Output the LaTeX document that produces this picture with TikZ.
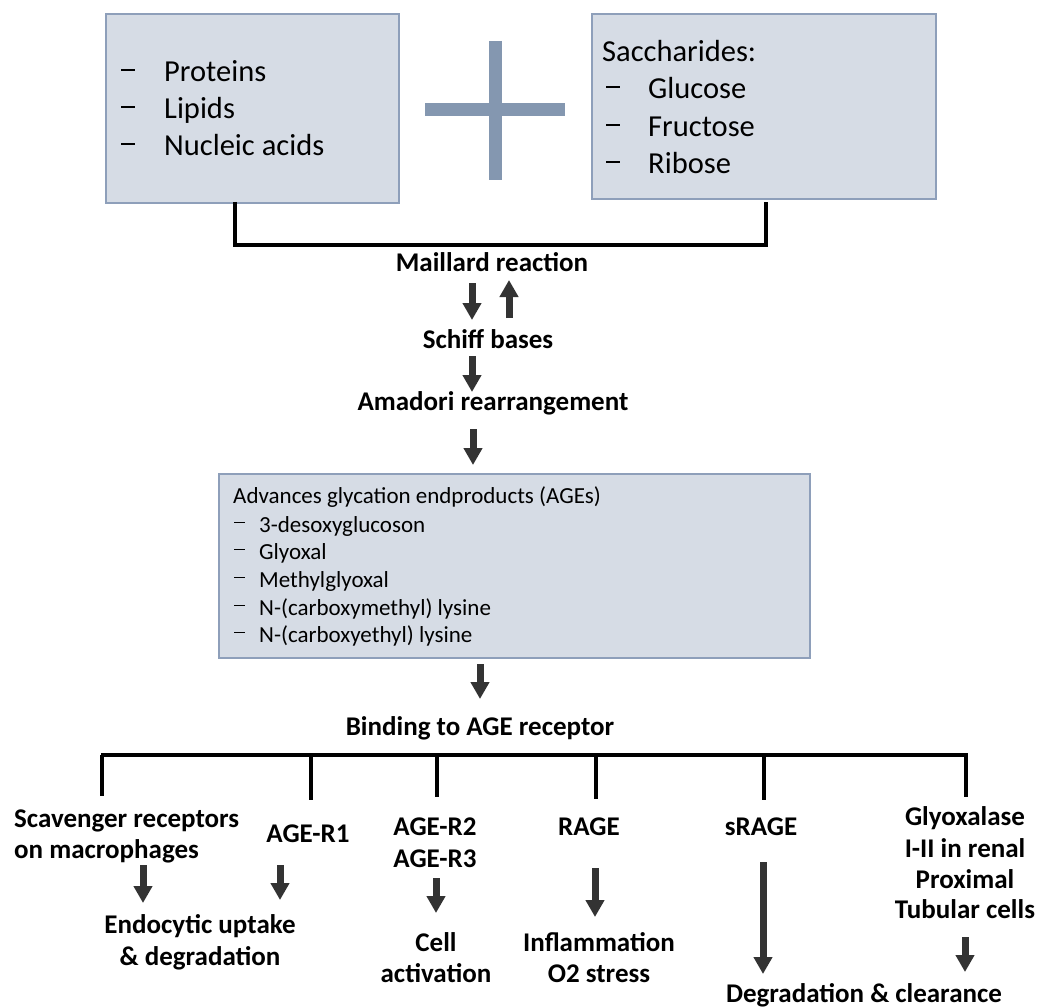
\documentclass[tikz,border=0pt]{standalone}
\usepackage{fontspec}
\setmainfont{Carlito}
\usetikzlibrary{arrows.meta}
\definecolor{boxfill}{HTML}{D6DCE5}
\definecolor{boxline}{HTML}{8E9FBA}
\definecolor{plusc}{HTML}{8497B0}
\definecolor{arrc}{HTML}{333333}
\newcommand\mydash{\rule[0.37em]{0.46em}{0.07em}}
\begin{document}
\begin{tikzpicture}[x=1pt,y=-1pt,
  box/.style={draw=boxline, fill=boxfill, line width=2pt, anchor=north west, inner sep=0pt},
  bigtxt/.style={font=\fontsize{30.5}{36}\selectfont, anchor=base west, inner sep=0pt},
  smtxt/.style={font=\fontsize{23}{28}\selectfont, anchor=base west, inner sep=0pt},
  lbl/.style={font=\bfseries\fontsize{27}{32}\selectfont, anchor=base, inner sep=0pt},
  lbll/.style={font=\bfseries\fontsize{27}{32}\selectfont, anchor=base west, inner sep=0pt},
  arr/.style={draw=arrc, line width=7pt, -{Triangle[length=17pt,width=18pt]}},
  bus/.style={draw=black, line width=4pt},
  plusbar/.style={draw=plusc, line width=13pt}]
\useasboundingbox (0,0) rectangle (1038,1008);

% top boxes
\node[box, minimum width=293pt, minimum height=189pt] (lbox) at (105,13) {};
\node[box, minimum width=344pt, minimum height=185pt] (rbox) at (591,13) {};
\node[bigtxt] (d1) at (121,82) {\mydash};
\node[bigtxt] (t1) at (164,82) {Proteins};
\node[bigtxt] (d2) at (121,119) {\mydash};
\node[bigtxt] (t2) at (164,119) {Lipids};
\node[bigtxt] (d3) at (121,156) {\mydash};
\node[bigtxt] (t3) at (164,156) {Nucleic acids};
\node[bigtxt] (s0) at (602,62) {Saccharides:};
\node[bigtxt] (e1) at (606,99) {\mydash};
\node[bigtxt] (s1) at (648,99) {Glucose};
\node[bigtxt] (e2) at (606,137) {\mydash};
\node[bigtxt] (s2) at (648,137) {Fructose};
\node[bigtxt] (e3) at (606,174) {\mydash};
\node[bigtxt] (s3) at (648,174) {Ribose};

% plus sign
\coordinate (pv1) at (495,41);
\coordinate (pv2) at (495,180);
\coordinate (ph1) at (425,110);
\coordinate (ph2) at (565,110);
\draw[plusbar] (pv1) -- (pv2);
\draw[plusbar] (ph1) -- (ph2);

% bracket
\coordinate (bl) at (235,202);
\coordinate (br) at (766,202);
\coordinate (bb) at (500,245);
\draw[bus] (bl) |- (bb) -| (br);

% chain
\node[lbl] (maillard) at (492,272) {Maillard reaction};
\node[lbl] (schiff) at (488,348) {Schiff bases};
\node[lbl] (amadori) at (493,410) {Amadori rearrangement};
\coordinate (m1) at (472,283);
\coordinate (m2) at (472,320);
\coordinate (u1) at (509,318);
\coordinate (u2) at (509,280);
\draw[arr] (m1) -- (m2);
\draw[arr] (u1) -- (u2);
\coordinate (s1a) at (472,356);
\coordinate (s1b) at (472,392);
\draw[arr] (s1a) -- (s1b);
\coordinate (a1a) at (473,429);
\coordinate (a1b) at (473,465);
\draw[arr] (a1a) -- (a1b);

% AGE box
\node[box, minimum width=591pt, minimum height=184pt] (agebox) at (218,473) {};
\node[smtxt] (g0) at (233,503) {Advances glycation endproducts (AGEs)};
\node[smtxt] (gd1) at (234,532) {\mydash};
\node[smtxt] (g1) at (259,532) {3-desoxyglucoson};
\node[smtxt] (gd2) at (234,559) {\mydash};
\node[smtxt] (g2) at (259,559) {Glyoxal};
\node[smtxt] (gd3) at (234,587) {\mydash};
\node[smtxt] (g3) at (259,587) {Methylglyoxal};
\node[smtxt] (gd4) at (234,615) {\mydash};
\node[smtxt] (g4) at (259,615) {N-(carboxymethyl) lysine};
\node[smtxt] (gd5) at (234,642) {\mydash};
\node[smtxt] (g5) at (259,642) {N-(carboxyethyl) lysine};

\coordinate (b1a) at (480,664);
\coordinate (b1b) at (480,699);
\draw[arr] (b1a) -- (b1b);
\node[lbl] (binding) at (480,735) {Binding to AGE receptor};

% bus
\coordinate (busL) at (101,755);
\coordinate (busR) at (968,755);
\draw[bus] (busL) -- (busR);
\coordinate (v1) at (102,755); \coordinate (v1b) at (102,796);
\coordinate (v2) at (311,755); \coordinate (v2b) at (311,800);
\coordinate (v3) at (437,755); \coordinate (v3b) at (437,797);
\coordinate (v4) at (596,755); \coordinate (v4b) at (596,799);
\coordinate (v5) at (764,755); \coordinate (v5b) at (764,800);
\coordinate (v6) at (966,755); \coordinate (v6b) at (966,797);
\draw[bus] (v1) -- (v1b);
\draw[bus] (v2) -- (v2b);
\draw[bus] (v3) -- (v3b);
\draw[bus] (v4) -- (v4b);
\draw[bus] (v5) -- (v5b);
\draw[bus] (v6) -- (v6b);

% receptor labels
\node[lbll] (scav1) at (14,827) {Scavenger receptors};
\node[lbll] (scav2) at (14,858) {on macrophages};
\node[lbl] (r1) at (308,842) {AGE-R1};
\node[lbl] (r2) at (435,835) {AGE-R2};
\node[lbl] (r3) at (435,867) {AGE-R3};
\node[lbl] (rage) at (589,835) {RAGE};
\node[lbl] (srage) at (761,835) {sRAGE};
\node[lbl] (gly1) at (965,825) {Glyoxalase};
\node[lbl] (gly2) at (965,857) {I-II in renal};
\node[lbl] (gly3) at (965,888) {Proximal};
\node[lbl] (gly4) at (965,918) {Tubular cells};

% arrows down
\coordinate (x1a) at (143,865); \coordinate (x1b) at (143,903);
\coordinate (x2a) at (280,865); \coordinate (x2b) at (280,900);
\coordinate (x3a) at (436,878); \coordinate (x3b) at (436,913);
\coordinate (x4a) at (595,868); \coordinate (x4b) at (595,917);
\coordinate (x5a) at (763,862); \coordinate (x5b) at (763,974);
\coordinate (x6a) at (965,937); \coordinate (x6b) at (965,972);
\draw[arr] (x1a) -- (x1b);
\draw[arr] (x2a) -- (x2b);
\draw[arr] (x3a) -- (x3b);
\draw[arr] (x4a) -- (x4b);
\draw[arr] (x5a) -- (x5b);
\draw[arr] (x6a) -- (x6b);

% results
\node[lbl] (res1a) at (200,933) {Endocytic uptake};
\node[lbl] (res1b) at (200,965) {\& degradation};
\node[lbl] (res2a) at (436,951) {Cell};
\node[lbl] (res2b) at (436,982) {activation};
\node[lbl] (res3a) at (599,951) {Inflammation};
\node[lbl] (res3b) at (599,982) {O2 stress};
\node[lbl] (res4) at (864,1002) {Degradation \& clearance};
\end{tikzpicture}
\end{document}
